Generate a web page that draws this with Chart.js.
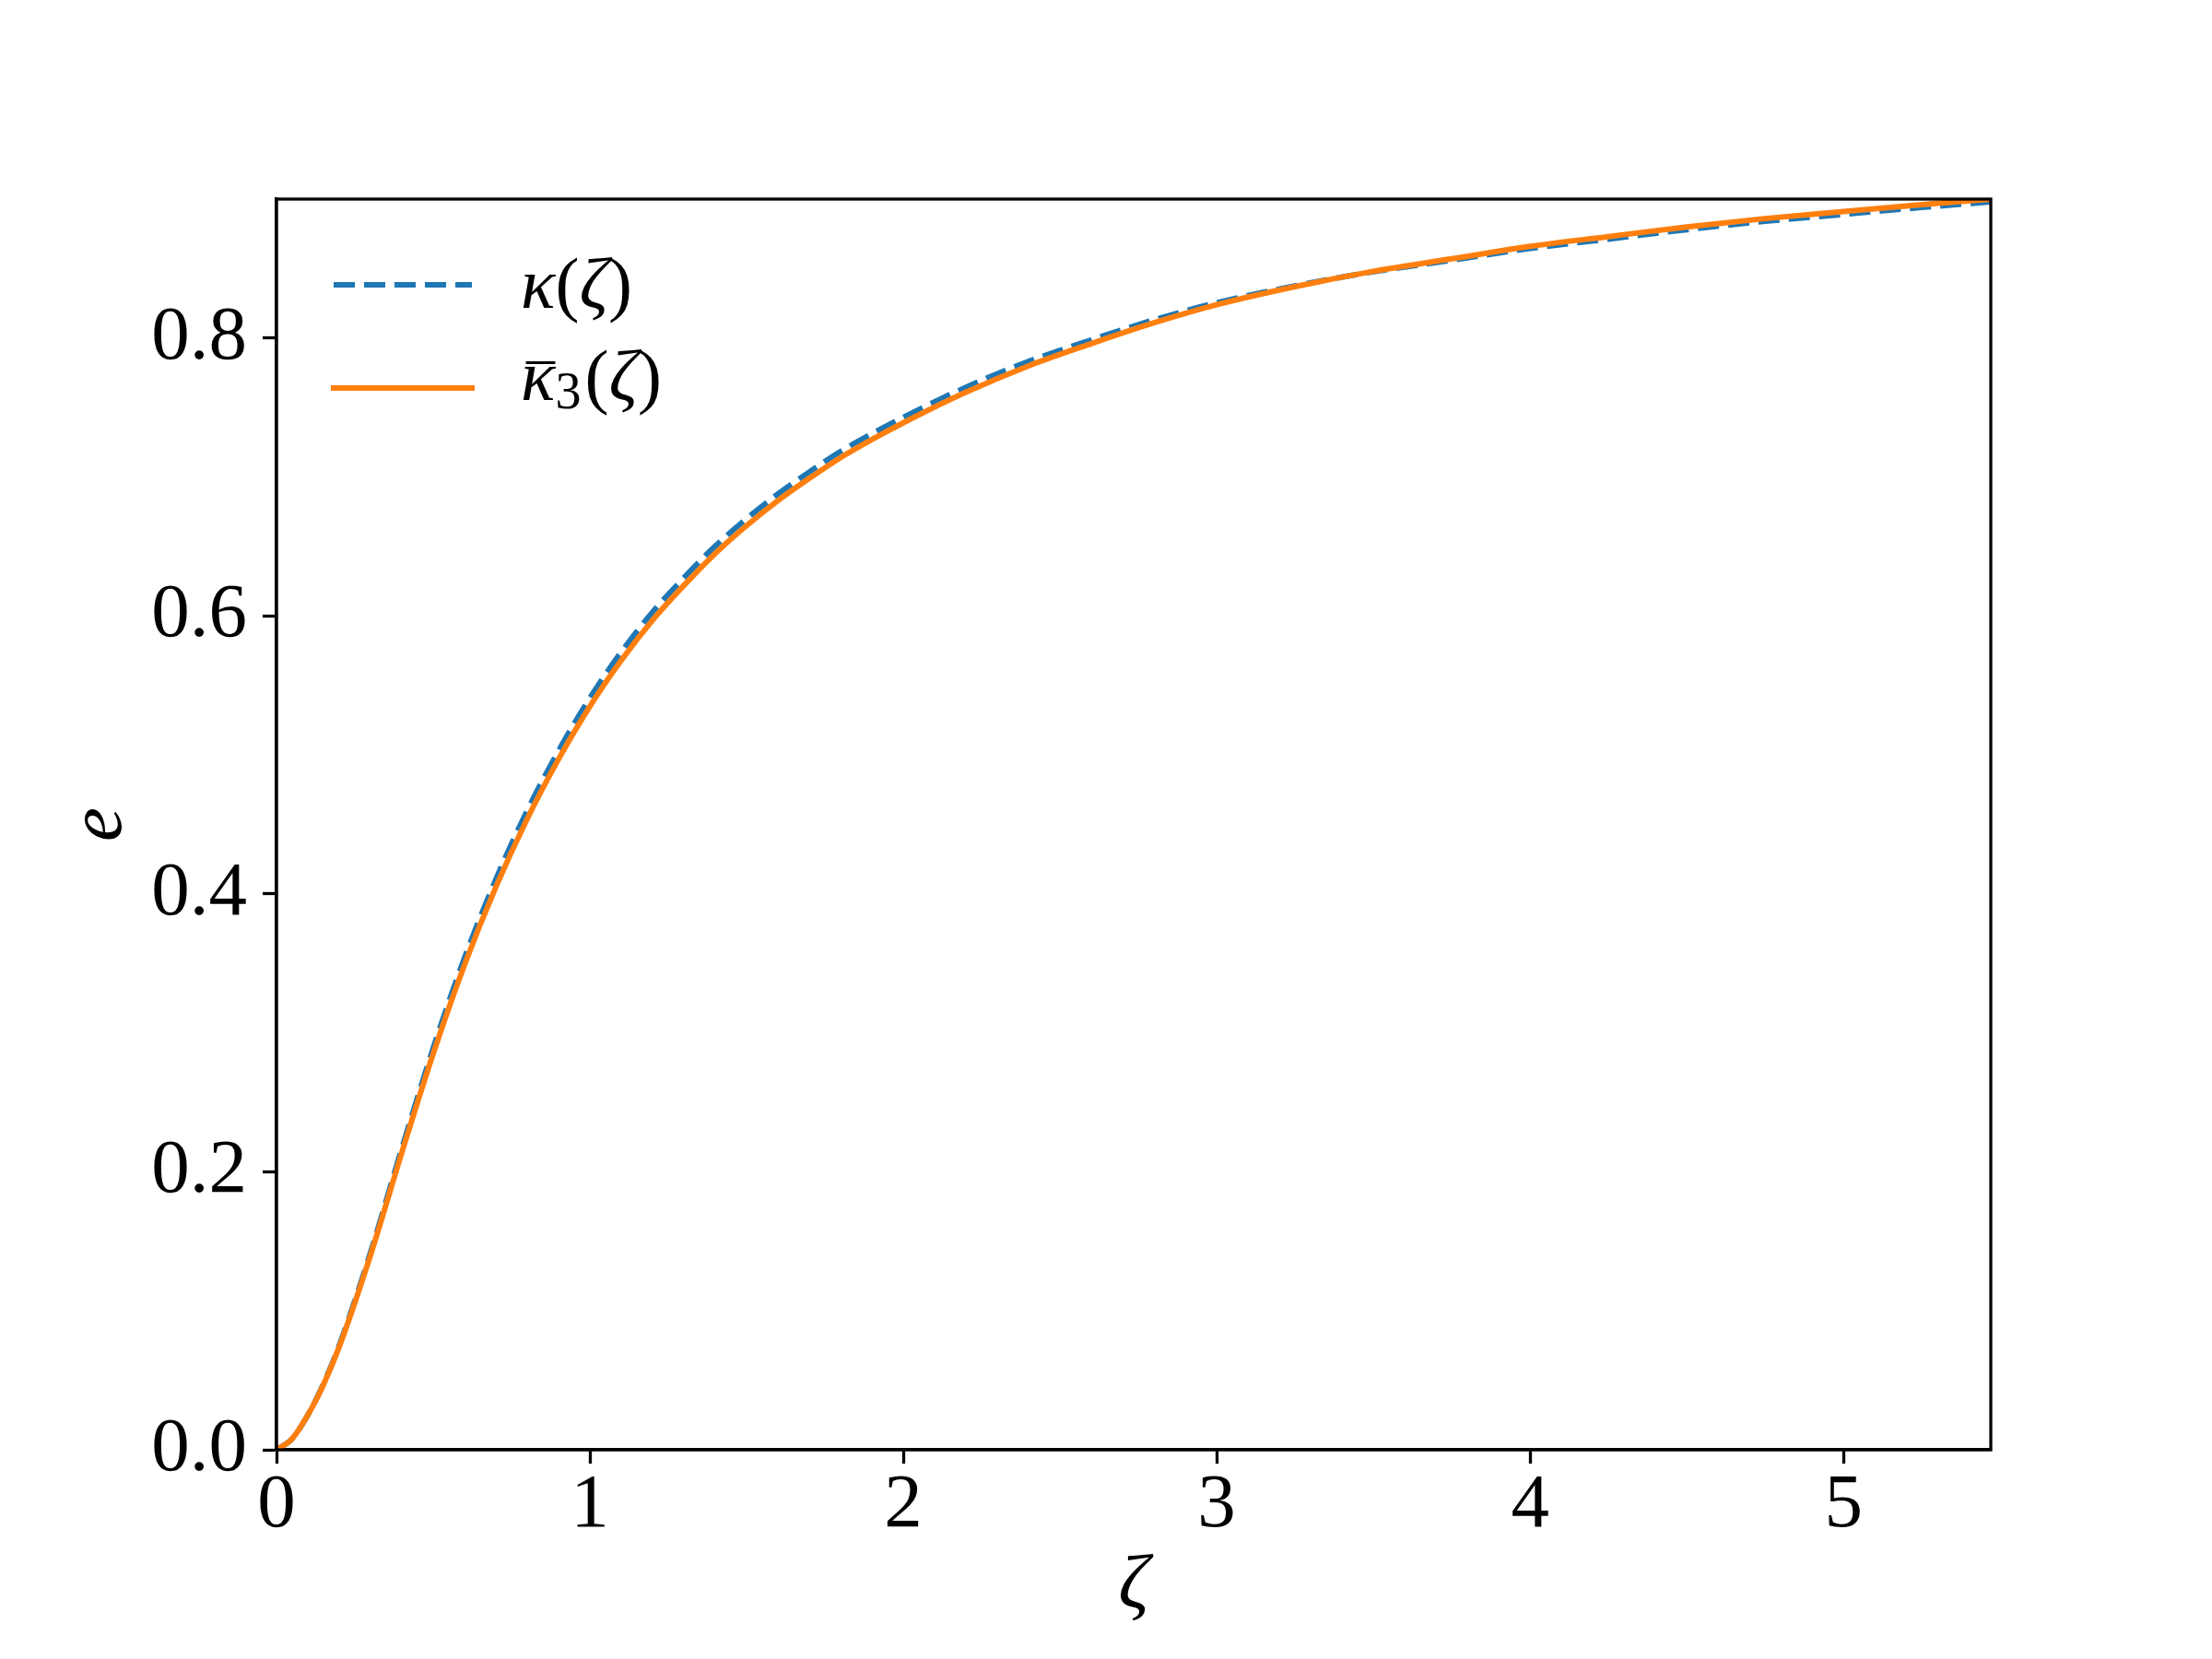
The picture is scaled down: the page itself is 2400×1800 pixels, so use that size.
<!DOCTYPE html>
<html><head><meta charset="utf-8">
<script src="https://cdn.jsdelivr.net/npm/chart.js@4.4.1/dist/chart.umd.min.js"></script>
<style>html,body{margin:0;padding:0;background:#fff}canvas{display:block}</style>
</head><body>
<canvas id="c" width="2400" height="1800"></canvas>
<script>
const zeta = [0, 0.05, 0.1, 0.15, 0.2, 0.3, 0.4, 0.5, 0.6, 0.7, 0.8, 0.9, 1.0, 1.1, 1.2, 1.3, 1.4, 1.5, 1.6, 1.7, 1.8, 1.9, 2.0, 2.2, 2.4, 2.6, 2.8, 3.0, 3.25, 3.5, 3.75, 4.0, 4.25, 4.5, 4.75, 5.0, 5.25, 5.47];
const kappa = [0, 0.008, 0.025, 0.0475, 0.075, 0.142, 0.217, 0.289, 0.354, 0.4105, 0.460, 0.503, 0.541, 0.574, 0.6028, 0.6275, 0.6503, 0.670, 0.6878, 0.7036, 0.7184, 0.7312, 0.743, 0.7646, 0.7832, 0.7987, 0.8131, 0.8254, 0.8375, 0.8477, 0.856, 0.8645, 0.8712, 0.878, 0.884, 0.889, 0.894, 0.898];
const kappaBar3 = [0, 0.008, 0.025, 0.047, 0.074, 0.140, 0.214, 0.285, 0.349, 0.405, 0.454, 0.497, 0.535, 0.568, 0.597, 0.622, 0.645, 0.665, 0.683, 0.699, 0.714, 0.727, 0.739, 0.761, 0.780, 0.796, 0.811, 0.824, 0.837, 0.848, 0.857, 0.866, 0.873, 0.880, 0.886, 0.891, 0.896, 0.900];
const xTicks = [0, 1, 2, 3, 4, 5];
const xTickLabels = ['0', '1', '2', '3', '4', '5'];
const yTicks = [0, 0.2, 0.4, 0.6, 0.8];
const yTickLabels = ['0.0', '0.2', '0.4', '0.6', '0.8'];
const xTitle = 'ζ';
const yTitle = 'e';

const SERIF = "'Liberation Serif', 'DejaVu Serif', serif";
const BLUE = '#1f77b4', ORANGE = '#ff7f0e';

// legend entries as pieces of math text
const legendEntries = [
  {color: BLUE, dash: [23, 10], parts: [{t: 'κ', it: true}, {t: '('}, {t: 'ζ', it: true}, {t: ')'}]},
  {color: ORANGE, dash: [], parts: [{t: 'κ', it: true, bar: true}, {t: '3', sub: true}, {t: '('}, {t: 'ζ', it: true}, {t: ')'}]}
];

const mplPlugin = {
  id: 'mplDecor',
  afterDraw(chart) {
    const {ctx, chartArea: a} = chart;
    ctx.save();
    // spines
    ctx.strokeStyle = '#000';
    ctx.lineWidth = 3.3;
    ctx.setLineDash([]);
    ctx.strokeRect(a.left, a.top, a.right - a.left, a.bottom - a.top);
    // legend
    const fs = 78;
    const lineY = [a.top + 93, a.top + 205];
    const baseY = [a.top + 118, a.top + 218];
    legendEntries.forEach((e, i) => {
      ctx.beginPath();
      ctx.strokeStyle = e.color;
      ctx.lineWidth = 6;
      ctx.lineCap = e.dash.length ? 'butt' : 'square';
      ctx.setLineDash(e.dash);
      ctx.moveTo(a.left + 62, lineY[i]);
      ctx.lineTo(a.left + 212, lineY[i]);
      ctx.stroke();
      ctx.setLineDash([]);
      let x = a.left + 265;
      ctx.fillStyle = '#000';
      ctx.textBaseline = 'alphabetic';
      ctx.textAlign = 'left';
      e.parts.forEach(p => {
        const size = p.sub ? fs * 0.72 : fs;
        ctx.font = (p.it ? 'italic ' : '') + size + 'px ' + SERIF;
        const y = baseY[i] + (p.sub ? fs * 0.12 : 0);
        ctx.fillText(p.t, x, y);
        const w = ctx.measureText(p.t).width;
        if (p.bar) {
          ctx.beginPath();
          ctx.strokeStyle = '#000';
          ctx.lineWidth = 3;
          ctx.lineCap = 'butt';
          ctx.moveTo(x + w * 0.15, y - fs * 0.52);
          ctx.lineTo(x + w * 1.0, y - fs * 0.52);
          ctx.stroke();
        }
        x += w + (p.sub ? 4 : 0);
      });
    });
    ctx.restore();
  }
};

new Chart(document.getElementById('c'), {
  type: 'line',
  data: {
    datasets: [
      {
        label: 'κ(ζ)',
        data: zeta.map((z, i) => ({x: z, y: kappa[i]})),
        borderColor: BLUE, borderWidth: 6, borderDash: [23, 10], borderCapStyle: 'butt',
        pointRadius: 0, cubicInterpolationMode: 'monotone', fill: false, order: 2, clip: 0
      },
      {
        label: 'κ̄3(ζ)',
        data: zeta.map((z, i) => ({x: z, y: kappaBar3[i]})),
        borderColor: ORANGE, borderWidth: 6, borderCapStyle: 'butt',
        pointRadius: 0, cubicInterpolationMode: 'monotone', fill: false, order: 1, clip: 0
      }
    ]
  },
  options: {
    responsive: false,
    devicePixelRatio: 1,
    animation: false,
    events: [],
    layout: {padding: {left: 0, top: 216, right: 240, bottom: 0}},
    plugins: {legend: {display: false}, tooltip: {enabled: false}},
    scales: {
      x: {
        type: 'linear', min: 0, max: 5.47,
        afterBuildTicks: s => { s.ticks = xTicks.map(v => ({value: v})); },
        afterFit: s => { s.height = 227; },
        ticks: {
          callback: v => xTickLabels[xTicks.indexOf(v)],
          font: {family: SERIF, size: 83, lineHeight: 1}, color: '#000',
          padding: 5, maxRotation: 0, autoSkip: false
        },
        grid: {drawOnChartArea: false, tickLength: 15, tickWidth: 3.3, tickColor: '#000'},
        border: {color: '#000', width: 3.3},
        title: {display: true, text: xTitle, color: '#000',
          font: {family: SERIF, size: 83, style: 'italic', lineHeight: 1},
          padding: {top: 0, bottom: 36}}
      },
      y: {
        type: 'linear', min: 0, max: 0.9,
        afterBuildTicks: s => { s.ticks = yTicks.map(v => ({value: v})); },
        afterFit: s => { s.width = 300; },
        ticks: {
          callback: v => yTickLabels[yTicks.indexOf(v)],
          font: {family: SERIF, size: 83, lineHeight: 1}, color: '#000',
          padding: 17, autoSkip: false
        },
        grid: {drawOnChartArea: false, tickLength: 15, tickWidth: 3.3, tickColor: '#000'},
        border: {color: '#000', width: 3.3},
        title: {display: true, text: yTitle, color: '#000',
          font: {family: SERIF, size: 83, style: 'italic', lineHeight: 1},
          padding: {top: 68, bottom: 0}}
      }
    }
  },
  plugins: [mplPlugin]
});
</script>
</body></html>
